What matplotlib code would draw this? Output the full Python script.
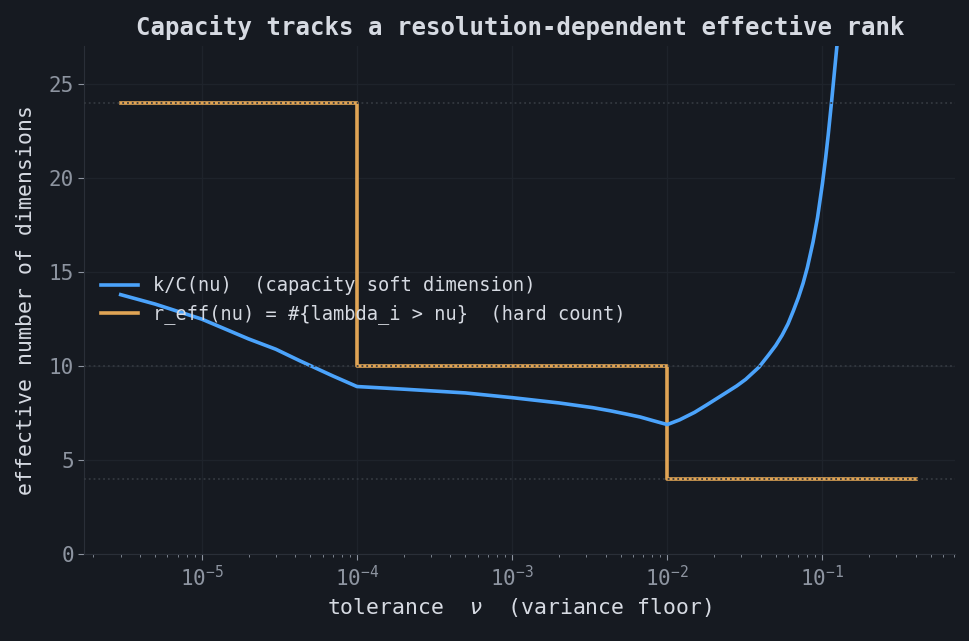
import matplotlib
matplotlib.use("Agg")
import matplotlib.pyplot as plt

# soft dimension k/C(nu)
nu_soft = [3e-6, 5e-6, 1e-5, 2e-5, 3e-5, 4.3e-5, 7e-5, 1e-4, 2e-4, 5e-4,
           1e-3, 2e-3, 3.3e-3, 4.3e-3, 5.5e-3, 6.7e-3, 8e-3, 1e-2, 1.2e-2,
           1.5e-2, 1.8e-2, 2.4e-2, 2.8e-2, 3.2e-2, 3.9e-2, 4.5e-2, 5e-2,
           5.5e-2, 6e-2, 6.5e-2, 7e-2, 7.5e-2, 8e-2, 8.7e-2, 9.3e-2, 0.1,
           0.105, 0.109, 0.115, 0.121, 0.127, 0.132]
soft_dim = [13.8, 13.3, 12.5, 11.45, 10.9, 10.28, 9.48, 8.92, 8.78, 8.58,
            8.33, 8.05, 7.8, 7.63, 7.45, 7.3, 7.12, 6.9, 7.15,
            7.55, 7.95, 8.6, 8.95, 9.3, 9.95, 10.6, 11.1,
            11.65, 12.25, 12.95, 13.65, 14.4, 15.25, 16.6, 17.9, 19.7,
            21.1, 22.3, 24.2, 26.1, 27.9, 29.8]

# hard count r_eff(nu)
nu_hard = [3e-6, 1e-4, 1e-2, 0.4]
hard_count = [24, 10, 4, 4]
ref_levels = [24, 10, 4]

bg = "#161a21"
fg = "#d6dae2"
tick_c = "#8d94a0"

plt.rcParams["font.family"] = ["DejaVu Sans Mono"]

fig, ax = plt.subplots(figsize=(9.7, 6.41), dpi=100)
fig.patch.set_facecolor(bg)
ax.set_facecolor(bg)

ax.plot(nu_soft, soft_dim, color="#4ba3fb", linewidth=2.6,
        label="k/C(nu)  (capacity soft dimension)", zorder=3)
ax.plot(nu_hard, hard_count, color="#e0a455", linewidth=2.6,
        drawstyle="steps-post",
        label="r_eff(nu) = #{lambda_i > nu}  (hard count)", zorder=2)
for lv in ref_levels:
    ax.axhline(lv, color="#33383f", linestyle=":", linewidth=1.3, zorder=4)

ax.set_xscale("log")
ax.set_xlim(1.75e-6, 0.72)
ax.set_ylim(0, 27)
ax.set_yticks([0, 5, 10, 15, 20, 25])

ax.grid(True, which="major", color="#1e232b", linewidth=1.0)
ax.set_axisbelow(True)
for s in ["top", "right"]:
    ax.spines[s].set_visible(False)
for s in ["left", "bottom"]:
    ax.spines[s].set_color("#2a2f38")
ax.tick_params(axis="both", which="both", colors=tick_c, labelsize=15)
ax.tick_params(axis="both", which="major", length=4)
ax.tick_params(axis="x", which="minor", length=2.5)

ax.set_xlabel("tolerance  $\\nu$  (variance floor)", color=fg, fontsize=15.5)
ax.set_ylabel("effective number of dimensions", color=fg, fontsize=15.5,
              labelpad=9)
ax.set_title("Capacity tracks a resolution-dependent effective rank",
             color=fg, fontsize=17.3, fontweight="bold", pad=8)

leg = ax.legend(loc="center left", frameon=False, fontsize=13.4)
for t in leg.get_texts():
    t.set_color(fg)

fig.subplots_adjust(left=0.087, right=0.985, top=0.928, bottom=0.135)
fig.savefig("out.png", dpi=100, facecolor=bg)
